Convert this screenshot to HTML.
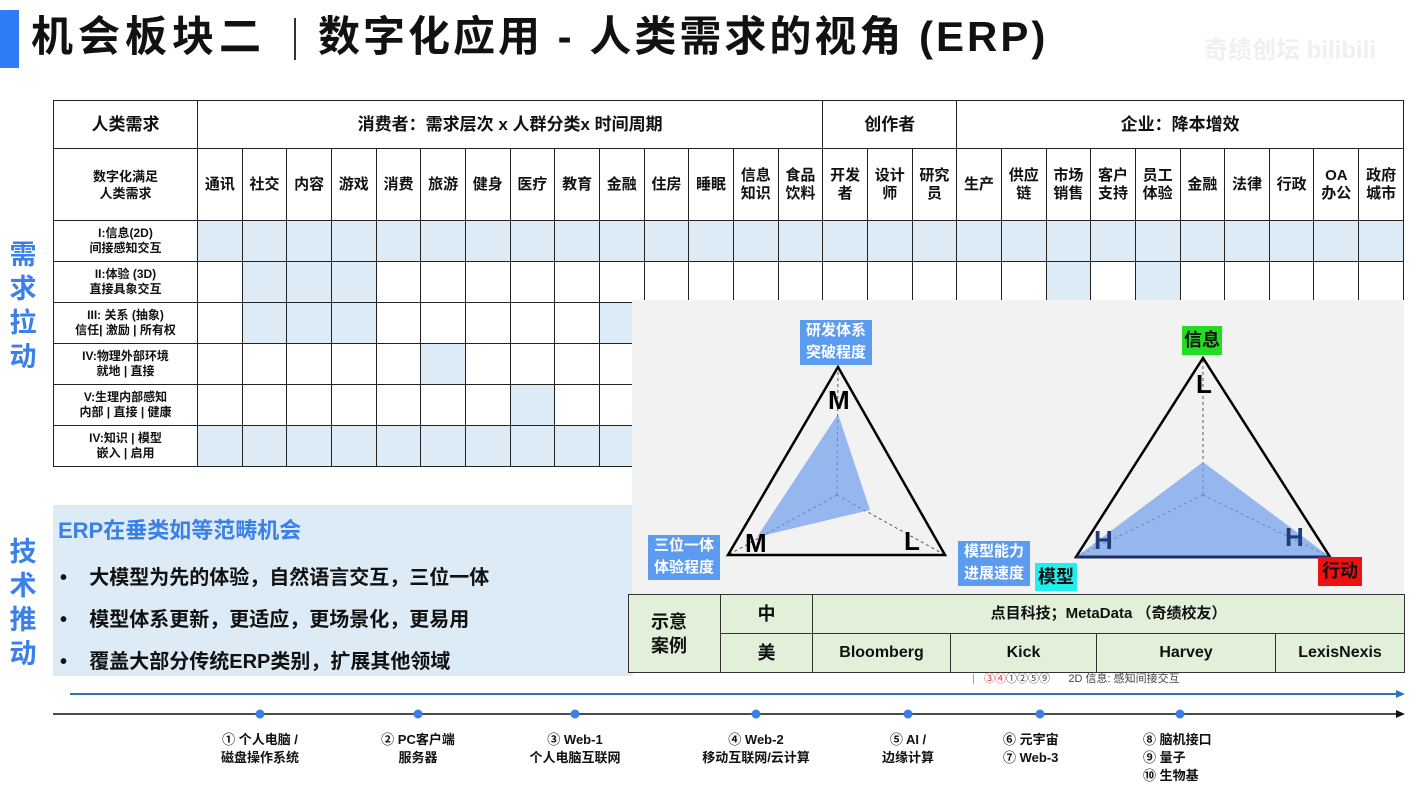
<!DOCTYPE html>
<html><head><meta charset="utf-8"><style>
body{margin:0;width:1425px;height:783px;background:#fff;position:relative;overflow:hidden;font-family:"Liberation Sans","Noto Sans CJK SC",sans-serif;font-weight:bold;color:#111}
.a{position:absolute}
table{position:absolute;left:53px;top:100px;width:1351px;border-collapse:collapse;table-layout:fixed}
td{border:1.5px solid #222;text-align:center;padding:0;font-size:15px;line-height:18px}
td.s{background:#ddebf7}
.rl{font-size:12px;line-height:15px}
.v{font-size:27px;color:#3a80e8;line-height:34px;width:30px;text-align:center}
.ct td{border:1.5px solid #333;font-size:16px}
</style></head><body>
<div class="a" style="left:0;top:10px;width:19px;height:58px;background:#2f7cf6"></div>
<div class="a" style="left:31px;top:11px;font-size:42px;line-height:52px;letter-spacing:5px">机会板块二</div>
<div class="a" style="left:294px;top:18px;width:2px;height:42px;background:#333"></div>
<div class="a" style="left:318px;top:11px;font-size:42px;line-height:52px;letter-spacing:3px;white-space:nowrap">数字化应用 - 人类需求的视角 (ERP)</div>
<div class="a" style="left:1204px;top:30px;font-size:24px;color:#f0f0f0">奇绩创坛 bilibili</div>

<div class="a v" style="left:8px;top:238px">需<br>求<br>拉<br>动</div>
<div class="a v" style="left:8px;top:535px">技<br>术<br>推<br>动</div>

<table>
<colgroup><col style="width:144px"><col span="27" style="width:44.67px"></colgroup>
<tr style="height:48px"><td style="font-size:17px">人类需求</td><td colspan="14" style="font-size:17px">消费者：需求层次 x 人群分类x 时间周期</td><td colspan="3" style="font-size:17px">创作者</td><td colspan="10" style="font-size:17px">企业：降本增效</td></tr>
<tr style="height:72px"><td style="font-size:13px;line-height:17px">数字化满足<br>人类需求</td><td>通讯</td><td>社交</td><td>内容</td><td>游戏</td><td>消费</td><td>旅游</td><td>健身</td><td>医疗</td><td>教育</td><td>金融</td><td>住房</td><td>睡眠</td><td>信息<br>知识</td><td>食品<br>饮料</td><td>开发<br>者</td><td>设计<br>师</td><td>研究<br>员</td><td>生产</td><td>供应<br>链</td><td>市场<br>销售</td><td>客户<br>支持</td><td>员工<br>体验</td><td>金融</td><td>法律</td><td>行政</td><td>OA<br>办公</td><td>政府<br>城市</td></tr>
<tr style="height:41px"><td class="rl">I:信息(2D)<br>间接感知交互</td><td class="s"></td><td class="s"></td><td class="s"></td><td class="s"></td><td class="s"></td><td class="s"></td><td class="s"></td><td class="s"></td><td class="s"></td><td class="s"></td><td class="s"></td><td class="s"></td><td class="s"></td><td class="s"></td><td class="s"></td><td class="s"></td><td class="s"></td><td class="s"></td><td class="s"></td><td class="s"></td><td class="s"></td><td class="s"></td><td class="s"></td><td class="s"></td><td class="s"></td><td class="s"></td><td class="s"></td></tr>
<tr style="height:41px"><td class="rl">II:体验 (3D)<br>直接具象交互</td><td></td><td class="s"></td><td class="s"></td><td class="s"></td><td></td><td></td><td></td><td></td><td></td><td></td><td></td><td></td><td></td><td></td><td></td><td></td><td></td><td></td><td></td><td class="s"></td><td></td><td class="s"></td><td></td><td></td><td></td><td></td><td></td></tr>
<tr style="height:41px"><td class="rl">III: 关系 (抽象)<br>信任| 激励 | 所有权</td><td></td><td class="s"></td><td class="s"></td><td class="s"></td><td></td><td></td><td></td><td></td><td></td><td class="s"></td><td></td><td></td><td></td><td></td><td></td><td></td><td></td><td></td><td></td><td></td><td></td><td></td><td></td><td></td><td></td><td></td><td></td></tr>
<tr style="height:41px"><td class="rl">IV:物理外部环境<br>就地 | 直接</td><td></td><td></td><td></td><td></td><td></td><td class="s"></td><td></td><td></td><td></td><td></td><td></td><td></td><td></td><td></td><td></td><td></td><td></td><td></td><td></td><td></td><td></td><td></td><td></td><td></td><td></td><td></td><td></td></tr>
<tr style="height:41px"><td class="rl">V:生理内部感知<br>内部 | 直接 | 健康</td><td></td><td></td><td></td><td></td><td></td><td></td><td></td><td class="s"></td><td></td><td></td><td></td><td></td><td></td><td></td><td></td><td></td><td></td><td></td><td></td><td></td><td></td><td></td><td></td><td></td><td></td><td></td><td></td></tr>
<tr style="height:41px"><td class="rl">IV:知识 | 模型<br>嵌入 | 启用</td><td class="s"></td><td class="s"></td><td class="s"></td><td class="s"></td><td class="s"></td><td class="s"></td><td class="s"></td><td class="s"></td><td class="s"></td><td class="s"></td><td class="s"></td><td class="s"></td><td class="s"></td><td class="s"></td><td class="s"></td><td class="s"></td><td class="s"></td><td class="s"></td><td class="s"></td><td class="s"></td><td class="s"></td><td class="s"></td><td class="s"></td><td class="s"></td><td class="s"></td><td class="s"></td><td class="s"></td></tr>
</table>

<div class="a" style="left:53px;top:505px;width:580px;height:171px;background:#ddebf7"></div>
<div class="a" style="left:58px;top:516px;font-size:22px;color:#3a80e8;line-height:30px">ERP在垂类如等范畴机会</div>
<div class="a" style="left:60px;top:557px;font-size:20px;line-height:42px">
<div>•&nbsp;&nbsp;&nbsp;&nbsp;大模型为先的体验，自然语言交互，三位一体</div>
<div>•&nbsp;&nbsp;&nbsp;&nbsp;模型体系更新，更适应，更场景化，更易用</div>
<div>•&nbsp;&nbsp;&nbsp;&nbsp;覆盖大部分传统ERP类别，扩展其他领域</div></div>

<div class="a" style="left:632px;top:300px;width:772px;height:372px;background:#f2f2f2"></div>
<svg class="a" style="left:0;top:0" width="1425" height="783">
<g stroke="#555" stroke-dasharray="3,3" stroke-width="1" fill="none">
<line x1="837" y1="495" x2="838" y2="367"/><line x1="837" y1="495" x2="728" y2="555"/><line x1="837" y1="495" x2="945" y2="555"/>
<line x1="1203" y1="495" x2="1203" y2="358"/><line x1="1203" y1="495" x2="1076" y2="557"/><line x1="1203" y1="495" x2="1330" y2="557"/>
</g>
<polygon points="838,414 870,510 757,537" fill="#6d9eeb" fill-opacity="0.7"/>
<polygon points="1203,462 1330,557 1076,557" fill="#6d9eeb" fill-opacity="0.7"/>
<polygon points="838,367 728,555 945,555" fill="none" stroke="#000" stroke-width="2.5"/>
<polygon points="1203,358 1076,557 1330,557" fill="none" stroke="#000" stroke-width="2.5"/>
<line x1="1076" y1="557" x2="1330" y2="557" stroke="#1f2d6b" stroke-width="3"/>
<g font-family="Liberation Sans,sans-serif" font-weight="bold" font-size="26">
<text x="828" y="409">M</text><text x="745" y="552">M</text><text x="904" y="550">L</text>
<text x="1196" y="393">L</text><text x="1094" y="549" fill="#1f3c7a">H</text><text x="1285" y="546" fill="#1f3c7a">H</text></g>
<g stroke="#111" stroke-width="1.5"><line x1="70" y1="694" x2="1398" y2="694" stroke="#2e75b6" stroke-width="2"/>
<line x1="53" y1="714" x2="1398" y2="714"/></g>
<polygon points="1405,694 1396,690 1396,698" fill="#2e75b6"/>
<polygon points="1405,714 1396,710 1396,718" fill="#111"/>
<g fill="#3a80e8"><circle cx="260" cy="714" r="4.5"/><circle cx="418" cy="714" r="4.5"/><circle cx="575" cy="714" r="4.5"/><circle cx="756" cy="714" r="4.5"/><circle cx="908" cy="714" r="4.5"/><circle cx="1040" cy="714" r="4.5"/><circle cx="1180" cy="714" r="4.5"/></g>
</svg>
<div class="a" style="left:800px;top:320px;width:72px;height:45px;background:#5b9bf0;color:#fff;font-size:15px;line-height:22px;text-align:center">研发体系<br>突破程度</div>
<div class="a" style="left:648px;top:535px;width:72px;height:45px;background:#5b9bf0;color:#fff;font-size:15px;line-height:22px;text-align:center">三位一体<br>体验程度</div>
<div class="a" style="left:958px;top:541px;width:72px;height:45px;background:#5b9bf0;color:#fff;font-size:15px;line-height:22px;text-align:center">模型能力<br>进展速度</div>
<div class="a" style="left:1182px;top:326px;width:40px;height:29px;background:#22dd22;font-size:18px;line-height:29px;text-align:center">信息</div>
<div class="a" style="left:1035px;top:563px;width:42px;height:28px;background:#22eeee;font-size:18px;line-height:28px;text-align:center">模型</div>
<div class="a" style="left:1318px;top:557px;width:44px;height:29px;background:#ee1111;font-size:18px;line-height:29px;text-align:center">行动</div>

<table class="ct" style="left:628px;top:594px;width:776px;background:#e2efd9">
<colgroup><col style="width:92px"><col style="width:92px"><col style="width:138px"><col style="width:146px"><col style="width:179px"><col style="width:129px"></colgroup>
<tr style="height:39px"><td rowspan="2" style="font-size:18px;line-height:24px;text-align:left;padding-left:22px">示意<br>案例</td><td style="font-size:18px">中</td><td colspan="4" style="font-size:15px">点目科技；MetaData （奇绩校友）</td></tr>
<tr style="height:39px"><td style="font-size:18px">美</td><td>Bloomberg</td><td>Kick</td><td>Harvey</td><td>LexisNexis</td></tr>
</table>
<div class="a" style="left:972px;top:670px;font-size:11px;font-weight:normal;color:#444"><span style="color:#999">|</span>&nbsp;&nbsp;&nbsp;<span style="color:#e33">③④</span>①②⑤⑨&nbsp;&nbsp;&nbsp;&nbsp;&nbsp;&nbsp;2D 信息: 感知间接交互</div>

<div class="a" style="font-size:13px;line-height:18px;top:731px;left:200px;width:120px;text-align:center">① 个人电脑 /<br>磁盘操作系统</div>
<div class="a" style="font-size:13px;line-height:18px;top:731px;left:358px;width:120px;text-align:center">② PC客户端<br>服务器</div>
<div class="a" style="font-size:13px;line-height:18px;top:731px;left:505px;width:140px;text-align:center">③ Web-1<br>个人电脑互联网</div>
<div class="a" style="font-size:13px;line-height:18px;top:731px;left:676px;width:160px;text-align:center">④ Web-2<br>移动互联网/云计算</div>
<div class="a" style="font-size:13px;line-height:18px;top:731px;left:858px;width:100px;text-align:center">⑤ AI /<br>边缘计算</div>
<div class="a" style="font-size:13px;line-height:18px;top:731px;left:1003px;width:80px">⑥ 元宇宙<br>⑦ Web-3</div>
<div class="a" style="font-size:13px;line-height:18px;top:731px;left:1143px;width:100px">⑧ 脑机接口<br>⑨ 量子<br>⑩ 生物基</div>
</body></html>
